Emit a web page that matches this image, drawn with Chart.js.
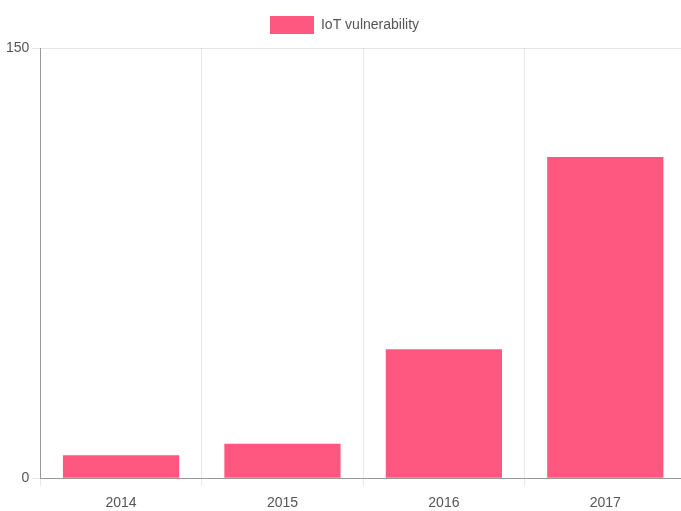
<!DOCTYPE html>
<html>
<head>
<meta charset="utf-8">
<script src="https://cdn.jsdelivr.net/npm/chart.js@4/dist/chart.umd.min.js"></script>
<style>
html,body{margin:0;padding:0;background:#fff;overflow:hidden;}
#wrap{position:absolute;left:0;top:0;width:690px;height:511px;}
</style>
</head>
<body>
<div id="wrap"><canvas id="c"></canvas></div>
<script>
const categories = ["2014", "2015", "2016", "2017"];
const seriesName = "IoT vulnerability";
const values = [8, 12, 45, 112];
const yTicks = [0, 150];

const FONT = "'Liberation Sans', Arial, sans-serif";
Chart.defaults.font.family = FONT;
Chart.defaults.color = '#555';

const legendGap = {
  id: 'legendGap',
  beforeLayout(chart) {
    const lg = chart.legend;
    if (lg && !lg._gapPatched) {
      const orig = lg.fit;
      lg.fit = function () { orig.call(this); this.height += 4; };
      lg._gapPatched = true;
    }
  }
};

new Chart(document.getElementById('c'), {
  type: 'bar',
  data: {
    labels: categories,
    datasets: [{
      label: seriesName,
      data: values,
      backgroundColor: 'rgb(255, 88, 128)',
      borderWidth: 0
    }]
  },
  options: {
    responsive: true,
    maintainAspectRatio: false,
    animation: false,
    layout: { padding: { left: 3, right: 4, top: 1, bottom: -10 } },
    plugins: {
      legend: {
        display: true,
        labels: { boxWidth: 44, boxHeight: 18, padding: 15, font: { size: 14 }, color: '#555' }
      },
      tooltip: { enabled: false }
    },
    scales: {
      x: {
        grid: { color: 'rgba(0,0,0,0.09)', offset: true, drawTicks: true },
        border: { color: '#999' },
        ticks: { font: { size: 14 }, color: '#555', padding: 9 }
      },
      y: {
        min: yTicks[0],
        max: yTicks[yTicks.length - 1],
        afterBuildTicks: (axis) => { axis.ticks = yTicks.map(v => ({ value: v })); },
        grid: { color: 'rgba(0,0,0,0.1)' },
        border: { color: '#999' },
        ticks: { font: { size: 14 }, color: '#555' }
      }
    }
  },
  plugins: [legendGap]
});
</script>
</body>
</html>
